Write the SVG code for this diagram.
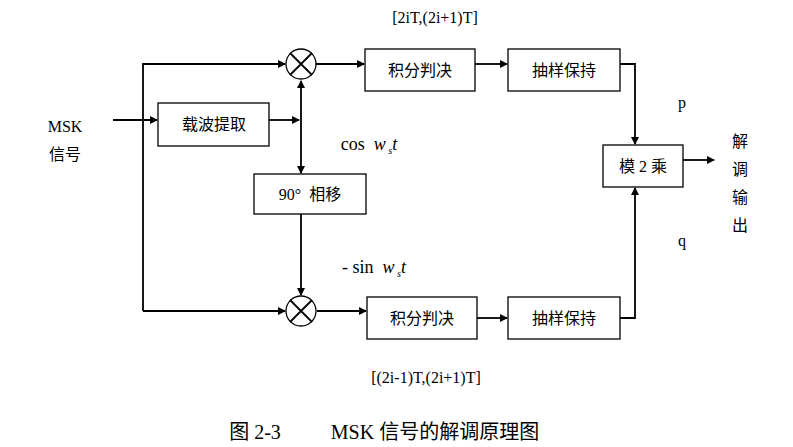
<svg xmlns="http://www.w3.org/2000/svg" width="793" height="447" viewBox="0 0 793 447">
<style>
.b{fill:#fff;stroke:#000;stroke-width:1.3}
.l{fill:none;stroke:#000;stroke-width:1.8}
.c{font-family:"Liberation Serif","Noto Sans CJK SC",serif;font-size:16px;text-anchor:middle;white-space:pre}
.s{font-family:"Noto Sans CJK SC",sans-serif;font-size:16px;text-anchor:middle}
.i{font-style:italic}
</style>
<defs><marker id="a" markerWidth="8" markerHeight="8" refX="7" refY="4" orient="auto" markerUnits="userSpaceOnUse" viewBox="0 0 8 8"><path d="M0,0L8,4L0,8z"/></marker></defs>
<rect width="793" height="447" fill="#fff"/>
<g id="connectors" class="l">
<path d="M113,120H157" marker-end="url(#a)"/>
<path d="M143,311V64H285" marker-end="url(#a)"/>
<path d="M143,311H285" marker-end="url(#a)"/>
<path d="M269,120H299" marker-end="url(#a)"/>
<path d="M301,120V81" marker-end="url(#a)"/>
<path d="M301,120V173" marker-end="url(#a)"/>
<path d="M301,214V295" marker-end="url(#a)"/>
<path d="M316,64H364" marker-end="url(#a)"/>
<path d="M475,64H507" marker-end="url(#a)"/>
<path d="M317,311H366" marker-end="url(#a)"/>
<path d="M477,318H507" marker-end="url(#a)"/>
<path d="M620,64H635V144" marker-end="url(#a)"/>
<path d="M620,318H635V188" marker-end="url(#a)"/>
<path d="M683,160H714" marker-end="url(#a)"/>
</g>
<g id="mul1"><circle cx="301" cy="64" r="15" class="b"/><path d="M290,53L312,75M312,53L290,75" class="l" stroke-width="1.3"/></g>
<g id="mul2"><circle cx="301" cy="311" r="15" class="b"/><path d="M290,300L312,322M312,300L290,322" class="l" stroke-width="1.3"/></g>
<g id="carrier"><rect x="158" y="103" width="111" height="43" class="b"/><text x="214" y="130" class="s">载波提取</text></g>
<g id="shift"><rect x="254" y="174" width="112" height="40" class="b"/><text x="310" y="200" class="c">90°  相移</text></g>
<g id="int1"><rect x="365" y="49" width="110" height="42" class="b"/><text x="420" y="76" class="s">积分判决</text></g>
<g id="sh1"><rect x="508" y="49" width="112" height="42" class="b"/><text x="564" y="76" class="s">抽样保持</text></g>
<g id="int2"><rect x="367" y="297" width="110" height="42" class="b"/><text x="422" y="324" class="s">积分判决</text></g>
<g id="sh2"><rect x="508" y="297" width="112" height="42" class="b"/><text x="564" y="324" class="s">抽样保持</text></g>
<g id="mod2"><rect x="603" y="145" width="80" height="42" class="b"/><text x="643" y="172" class="c">模 2 乘</text></g>
<g id="labels">
<text x="435" y="23" class="c">[2iT,(2i+1)T]</text>
<text x="426" y="383" class="c">[(2i-1)T,(2i+1)T]</text>
<text x="65" y="132" class="c">MSK</text>
<text x="65" y="160" class="c">信号</text>
<text x="369" y="150" class="c" style="font-size:18px">cos  <tspan class="i">w</tspan><tspan class="i" style="font-size:10px" dy="4"> s</tspan><tspan class="i" dy="-4">t</tspan></text>
<text x="374" y="273" class="c" style="font-size:18px">- sin  <tspan class="i">w</tspan><tspan class="i" style="font-size:10px" dy="4"> s</tspan><tspan class="i" dy="-4">t</tspan></text>
<text x="682" y="108" class="c">p</text>
<text x="682" y="246" class="c">q</text>
<text x="740" y="147" class="c">解</text>
<text x="740" y="175" class="c">调</text>
<text x="740" y="203" class="c">输</text>
<text x="740" y="231" class="c">出</text>
<text x="255" y="439" class="c" style="font-size:20px">图 2-3</text>
<text x="435" y="439" class="c" style="font-size:20px">MSK 信号的解调原理图</text>
</g>
</svg>
